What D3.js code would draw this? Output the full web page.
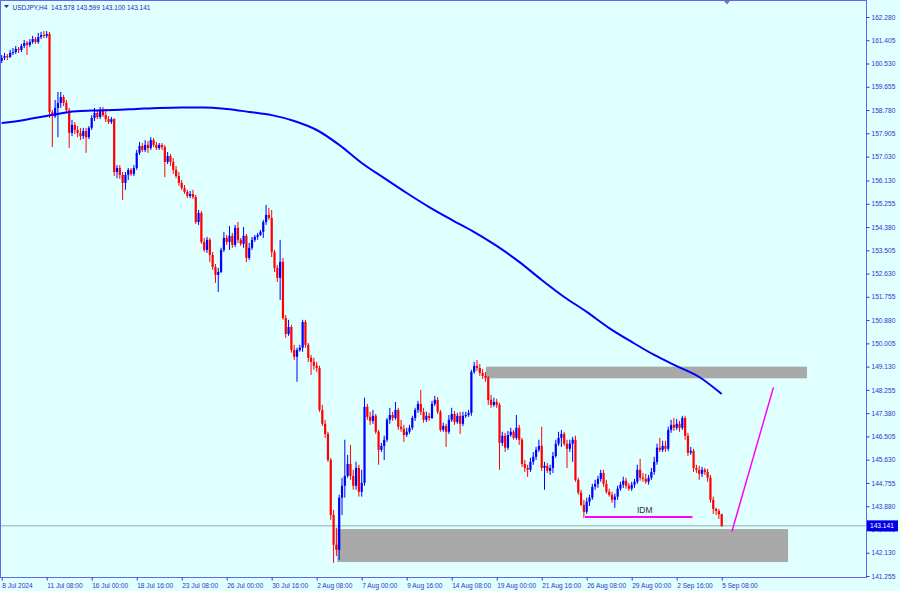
<!DOCTYPE html>
<html><head><meta charset="utf-8">
<script src="https://cdn.jsdelivr.net/npm/d3@7"></script>
<style>html,body{margin:0;padding:0;background:#E0FFFF;} svg{display:block}</style>
</head><body><svg id="c" width="900" height="591"></svg>
<script>
const symbol = "USDJPY,H4";
const quote = ["143.578", "143.599", "143.100", "143.141"];

const opens = [
160.63,160.74,160.81,160.78,160.93,160.96,161.08,161.04,161.19,161.30,
161.23,161.34,161.45,161.34,161.53,161.60,161.57,161.64,158.70,158.55,
158.86,159.05,159.27,159.05,158.78,157.92,158.22,158.03,157.92,157.80,
157.99,157.76,158.11,158.48,158.67,158.52,158.78,158.59,158.44,158.33,
158.44,156.45,156.60,156.34,156.04,156.34,156.53,156.38,156.60,157.17,
157.43,157.28,157.47,157.35,157.65,157.47,157.35,157.47,157.39,156.83,
157.05,156.83,156.53,156.30,156.04,155.85,155.70,155.55,155.62,155.51,
154.57,154.91,153.82,153.52,153.90,153.33,152.88,152.58,152.69,153.52,
153.97,153.82,154.05,153.71,154.35,153.90,153.75,154.05,153.22,153.60,
153.90,154.01,154.08,154.20,154.57,154.84,154.72,153.44,152.84,152.47,
153.07,150.96,150.36,150.62,149.76,149.50,149.76,149.84,150.81,149.95,
149.46,149.31,149.16,149.08,147.50,146.98,146.60,145.62,143.55,142.43,
142.24,144.20,144.65,145.02,145.47,145.02,144.65,145.32,144.42,144.76,
147.62,147.24,147.09,147.28,146.68,146.00,146.15,146.38,147.13,147.31,
147.20,147.50,146.87,146.79,146.56,146.68,146.83,147.20,147.50,147.73,
147.43,147.13,147.28,147.20,147.73,147.88,147.43,146.75,146.90,146.68,
147.13,147.35,147.05,147.28,146.98,147.28,147.31,147.39,148.93,149.16,
149.08,148.89,148.78,148.71,147.88,147.69,147.80,147.69,146.26,146.53,
146.08,146.56,146.68,146.45,146.83,146.38,145.47,145.32,145.25,145.55,
145.74,146.00,146.15,145.32,145.40,145.21,145.32,145.77,146.23,146.45,
146.60,146.23,146.04,146.23,146.38,144.87,144.39,143.93,143.67,144.05,
144.20,144.61,144.72,144.91,145.13,144.72,144.42,144.31,144.12,144.24,
144.54,144.69,144.84,144.65,144.54,144.69,144.80,145.25,144.95,144.91,
144.80,144.95,145.17,145.55,146.08,146.00,146.15,146.04,146.75,146.94,
146.83,146.98,146.83,147.20,146.53,145.89,145.96,145.32,145.25,145.10,
145.25,145.17,144.95,144.12,143.78,143.70,143.578
];
const highs = [
160.85,160.93,160.89,161.04,161.11,161.19,161.15,161.27,161.42,161.38,
161.45,161.57,161.53,161.68,161.72,161.75,161.75,161.72,158.78,159.16,
159.46,159.46,159.35,159.16,158.86,158.41,158.33,158.18,158.11,158.11,
158.11,158.18,158.59,158.86,158.78,158.90,158.90,158.74,158.55,158.52,
158.48,156.71,156.71,156.45,156.45,156.60,156.60,156.71,157.28,157.58,
157.54,157.65,157.61,157.76,157.73,157.58,157.54,157.54,157.47,157.20,
157.13,156.98,156.68,156.45,156.15,155.96,155.78,155.74,155.78,155.59,
155.02,154.98,153.97,154.01,153.97,153.44,152.99,152.84,153.60,154.20,
154.08,154.42,154.16,154.46,154.57,153.97,154.38,154.12,153.78,154.01,
154.08,154.16,154.27,154.65,155.21,155.10,155.02,153.52,152.95,153.90,
153.22,151.07,150.89,150.70,149.95,149.84,149.95,150.89,150.89,150.02,
149.57,149.46,149.31,149.16,147.69,147.13,146.68,145.70,143.74,143.07,
144.31,144.95,146.38,145.81,146.19,145.25,145.55,145.44,145.25,147.96,
147.73,147.43,147.50,147.35,146.75,146.26,146.53,147.20,147.58,147.43,
147.80,147.58,147.13,146.94,146.83,146.94,147.28,147.58,147.84,148.26,
147.58,147.43,147.39,147.84,148.03,147.99,147.50,147.02,146.98,147.31,
147.58,147.46,147.39,147.43,147.43,147.43,147.50,149.01,149.31,149.38,
149.23,149.04,148.93,148.78,148.07,147.96,147.92,147.77,146.68,146.64,
146.71,146.83,146.75,147.31,146.94,146.45,145.62,145.44,145.70,145.92,
146.11,146.38,146.87,145.55,145.51,145.44,145.92,146.38,146.68,146.75,
146.68,146.38,146.38,146.49,146.53,144.95,144.50,144.12,144.20,144.31,
144.72,144.87,145.02,145.25,145.25,144.87,144.54,144.42,144.35,144.65,
144.80,144.99,144.95,144.76,144.80,144.91,145.44,145.66,145.13,145.10,
145.06,145.32,145.74,146.23,146.45,146.34,146.34,146.87,147.13,147.20,
147.16,147.09,147.28,147.28,146.64,146.11,146.04,145.44,145.40,145.36,
145.32,145.28,145.06,144.24,143.82,143.78,143.599
];
const lows = [
160.55,160.66,160.66,160.74,160.85,160.89,160.93,160.96,161.11,160.85,
161.15,161.27,161.27,161.27,161.45,161.49,161.49,158.48,157.39,158.48,
157.76,158.86,158.93,158.70,157.36,157.80,157.88,157.76,157.65,157.69,
157.17,157.69,158.03,158.37,158.44,158.44,158.52,158.33,158.26,158.26,
156.30,156.22,156.19,155.40,155.78,156.15,156.30,156.30,156.53,157.09,
157.20,157.20,157.17,157.28,157.39,157.28,157.28,157.28,156.26,156.75,
156.68,156.38,156.22,155.93,155.78,155.63,155.47,155.47,155.44,154.50,
154.46,153.75,153.44,153.41,153.06,152.77,152.28,151.94,152.65,153.44,
153.71,153.52,153.60,153.63,153.78,153.67,153.60,153.06,153.14,153.52,
153.82,153.90,154.05,153.97,154.46,154.65,153.25,152.69,152.31,151.64,
150.89,150.21,150.29,149.65,149.38,148.56,149.69,149.69,149.84,149.31,
148.82,149.01,148.93,147.43,146.90,146.45,145.55,143.37,141.75,142.01,
141.86,143.55,144.20,144.95,144.87,144.50,144.50,144.24,144.24,144.65,
147.13,146.94,146.98,146.60,145.44,145.92,145.62,146.30,146.98,147.09,
147.13,146.75,146.68,146.30,146.49,146.60,146.75,147.09,147.39,147.31,
147.02,147.05,147.09,147.16,147.65,147.35,146.68,146.68,146.11,146.60,
147.05,146.94,146.98,146.60,146.90,147.20,147.24,147.28,148.86,148.97,
148.78,148.67,148.56,147.69,147.58,147.62,147.58,145.25,146.15,145.92,
146.00,146.49,146.38,146.38,146.19,145.36,145.17,144.98,145.17,145.44,
145.62,145.92,145.21,144.50,145.13,145.06,145.13,145.70,146.15,146.11,
146.15,145.32,145.92,145.55,144.80,144.31,143.89,143.44,143.59,143.89,
144.12,144.50,144.57,144.80,144.61,144.35,144.24,144.01,143.82,144.12,
144.46,144.57,144.54,144.46,144.46,144.57,144.72,144.84,144.80,144.72,
144.69,144.87,145.06,145.44,145.92,145.92,145.92,145.96,146.64,146.71,
146.75,146.68,146.75,146.38,145.77,145.81,145.17,145.13,144.87,144.98,
145.06,144.80,144.01,143.59,143.55,143.40,143.100
];
const closes = [
160.74,160.81,160.78,160.93,160.96,161.08,161.04,161.19,161.30,161.23,
161.34,161.45,161.34,161.53,161.60,161.57,161.64,158.70,158.55,158.86,
159.05,159.27,159.05,158.78,157.92,158.22,158.03,157.92,157.80,157.99,
157.76,158.11,158.48,158.67,158.52,158.78,158.59,158.44,158.33,158.44,
156.45,156.60,156.34,156.04,156.34,156.53,156.38,156.60,157.17,157.43,
157.28,157.47,157.35,157.65,157.47,157.35,157.47,157.39,156.83,157.05,
156.83,156.53,156.30,156.04,155.85,155.70,155.55,155.62,155.51,154.57,
154.91,153.82,153.52,153.90,153.33,152.88,152.58,152.69,153.52,153.97,
153.82,154.05,153.71,154.35,153.90,153.75,154.05,153.22,153.60,153.90,
154.01,154.08,154.20,154.57,154.84,154.72,153.44,152.84,152.47,153.07,
150.96,150.36,150.62,149.76,149.50,149.76,149.84,150.81,149.95,149.46,
149.31,149.16,149.08,147.50,146.98,146.60,145.62,143.55,142.43,142.24,
144.20,144.65,145.02,145.47,145.02,144.65,145.32,144.42,144.76,147.62,
147.24,147.09,147.28,146.68,146.00,146.15,146.38,147.13,147.31,147.20,
147.50,146.87,146.79,146.56,146.68,146.83,147.20,147.50,147.73,147.43,
147.13,147.28,147.20,147.73,147.88,147.43,146.75,146.90,146.68,147.13,
147.35,147.05,147.28,146.98,147.28,147.31,147.39,148.93,149.16,149.08,
148.89,148.78,148.71,147.88,147.69,147.80,147.69,146.26,146.53,146.08,
146.56,146.68,146.45,146.83,146.38,145.47,145.32,145.25,145.55,145.74,
146.00,146.15,145.32,145.40,145.21,145.32,145.77,146.23,146.45,146.60,
146.23,146.04,146.23,146.38,144.87,144.39,143.93,143.67,144.05,144.20,
144.61,144.72,144.91,145.13,144.72,144.42,144.31,144.12,144.24,144.54,
144.69,144.84,144.65,144.54,144.69,144.80,145.25,144.95,144.91,144.80,
144.95,145.17,145.55,146.08,146.00,146.15,146.04,146.75,146.94,146.83,
146.98,146.83,147.20,146.53,145.89,145.96,145.32,145.25,145.10,145.25,
145.17,144.95,144.12,143.78,143.70,143.578,143.141
];

// 200-period moving average, sampled every 8 bars
const maBars = [0,8,16,24,32,40,48,56,64,72,80,88,96,104,112,120,128,136,144,152,160,168,176,184,192,200,208,216,224,232,240,248,256];
const maValues = [158.29,158.41,158.56,158.71,158.76,158.78,158.82,158.86,158.88,158.88,158.82,158.71,158.59,158.37,158.03,157.47,156.79,156.22,155.66,155.13,154.65,154.19,153.67,153.07,152.39,151.75,151.19,150.58,150.06,149.57,149.15,148.74,148.10];

const timeLabelBars = [0,16,32,48,64,80,96,112,128,144,160,176,192,208,224,240,256];
const timeLabels = ["8 Jul 2024","11 Jul 08:00","16 Jul 00:00","18 Jul 16:00","23 Jul 08:00","26 Jul 00:00","30 Jul 16:00","2 Aug 08:00","7 Aug 00:00","9 Aug 16:00","14 Aug 08:00","19 Aug 00:00","21 Aug 16:00","26 Aug 08:00","29 Aug 00:00","2 Sep 16:00","5 Sep 08:00"];
const priceTicks = [162.280,161.405,160.530,159.655,158.780,157.905,157.030,156.130,155.255,154.380,153.505,152.630,151.755,150.880,150.005,149.130,148.255,147.380,146.505,145.630,144.755,143.880,143.005,142.130,141.255];

// zones (bar index range, price range)
const zoneBars = [[172.2, 286.3], [119.3, 279.6]];
const zonePrices = [[149.13, 148.69], [143.02, 141.78]];
// IDM level
const idmBars = [207.4, 245.6];
const idmPrice = 143.47;
const idmLabel = "IDM";
// projected move
const projBars = [259.6, 274.4];
const projPrices = [142.92, 148.35];

const W = 900, H = 591, plotR = 866, plotB = 577;
const svg = d3.select("#c");
const x = d3.scaleLinear().domain([0, 256]).range([1.7, 721.7]);
const y = d3.scaleLinear().domain([141.255, 162.28]).range([576, 17]);
const FONT = "'Liberation Sans', Arial, sans-serif";
const TXT = "#3434c8";

svg.append("rect").attr("width", W).attr("height", H).attr("fill", "#E0FFFF");
svg.append("defs").append("clipPath").attr("id", "clip")
  .append("rect").attr("x", 0).attr("y", 0).attr("width", plotR).attr("height", plotB);
const plot = svg.append("g").attr("clip-path", "url(#clip)");

// zones
zoneBars.forEach((b, k) => {
  plot.append("rect")
    .attr("x", x(b[0])).attr("width", x(b[1]) - x(b[0]))
    .attr("y", y(zonePrices[k][0])).attr("height", y(zonePrices[k][1]) - y(zonePrices[k][0]))
    .attr("fill", "#A9A9A9");
});

// last price line
const lastPrice = closes[closes.length - 1];
plot.append("line").attr("x1", 0).attr("x2", plotR)
  .attr("y1", y(lastPrice)).attr("y2", y(lastPrice))
  .attr("stroke", "#9fa9b0").attr("stroke-width", 1);

// candles
const idx = d3.range(closes.length);
const col = i => closes[i] >= opens[i] ? "#0000FF" : "#FF0000";
plot.append("g").selectAll("line").data(idx).join("line")
  .attr("x1", i => x(i)).attr("x2", i => x(i))
  .attr("y1", i => y(highs[i])).attr("y2", i => y(lows[i]))
  .attr("stroke", col).attr("stroke-width", 1);
plot.append("g").selectAll("rect").data(idx).join("rect")
  .attr("x", i => x(i) - 1.1).attr("width", 2.2)
  .attr("y", i => y(Math.max(opens[i], closes[i])))
  .attr("height", i => Math.max(1, Math.abs(y(opens[i]) - y(closes[i]))))
  .attr("fill", col);

// moving average
plot.append("path")
  .datum(maBars.map((b, k) => [b, maValues[k]]))
  .attr("d", d3.line().x(d => x(d[0])).y(d => y(d[1])).curve(d3.curveMonotoneX))
  .attr("fill", "none").attr("stroke", "#0000FF").attr("stroke-width", 2);

// IDM
plot.append("line")
  .attr("x1", x(idmBars[0])).attr("x2", x(idmBars[1]))
  .attr("y1", y(idmPrice)).attr("y2", y(idmPrice))
  .attr("stroke", "#FF00FF").attr("stroke-width", 2);
plot.append("text").attr("x", (x(idmBars[0]) + x(idmBars[1])) / 2 + 6).attr("y", y(idmPrice) - 4.5)
  .attr("text-anchor", "middle").attr("font-family", FONT).attr("font-size", 8.5)
  .attr("fill", "#303030").text(idmLabel);

// projection
plot.append("line")
  .attr("x1", x(projBars[0])).attr("x2", x(projBars[1]))
  .attr("y1", y(projPrices[0])).attr("y2", y(projPrices[1]))
  .attr("stroke", "#FF00FF").attr("stroke-width", 1.5);

// frame
svg.append("rect").attr("x", 0.5).attr("y", 0.5).attr("width", plotR).attr("height", plotB)
  .attr("fill", "none").attr("stroke", "#6464f0").attr("stroke-width", 1);

// shift marker
svg.append("path").attr("d", "M724,1 L730,1 L727,4.5 Z").attr("fill", "#7f7f7f");

// right axis
const yAxis = d3.axisRight(y).tickValues(priceTicks).tickFormat(d3.format(".3f")).tickSize(3).tickPadding(2);
const gy = svg.append("g").attr("transform", `translate(${plotR + 0.5},0)`).call(yAxis);
gy.select(".domain").remove();
gy.selectAll("line").attr("stroke", "#3434c8");
gy.selectAll("text").attr("font-family", FONT).attr("font-size", 6.6).attr("fill", TXT);

// bottom axis
const xAxis = d3.axisBottom(x).tickValues(timeLabelBars).tickFormat((d, k) => timeLabels[k]).tickSize(3).tickPadding(3);
const gx = svg.append("g").attr("transform", `translate(0,${plotB + 0.5})`).call(xAxis);
gx.select(".domain").remove();
gx.selectAll("line").attr("stroke", "#3434c8");
gx.selectAll("text").attr("text-anchor", "start").attr("font-family", FONT).attr("font-size", 6.6).attr("fill", TXT);

// current price label
const pl = svg.append("g");
pl.append("rect").attr("x", plotR + 1).attr("y", y(lastPrice) - 5.5).attr("width", 31).attr("height", 11).attr("fill", "#0000E6");
pl.append("text").attr("x", plotR + 4).attr("y", y(lastPrice) + 2.5)
  .attr("font-family", FONT).attr("font-size", 6.6).attr("fill", "#FFFFFF").text(quote[3]);

// title
svg.append("path").attr("d", "M4,5 L9,5 L6.5,8 Z").attr("fill", "#2828b0");
svg.append("text").attr("x", 12.5).attr("y", 9.5)
  .attr("font-family", FONT).attr("font-size", 6.5).attr("fill", "#2828b0")
  .attr("xml:space", "preserve")
  .text(symbol + "  " + quote.join(" "));
</script></body></html>
